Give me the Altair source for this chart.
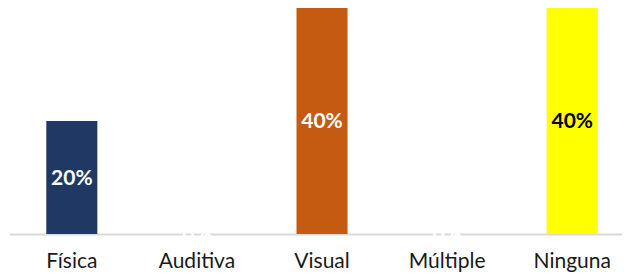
import altair as alt
import pandas as pd

categories = ["Física", "Auditiva", "Visual", "Múltiple", "Ninguna"]
values = [0.20, 0.0, 0.40, 0.0, 0.40]
colors = ["#203864", "#4472C4", "#C55A11", "#A5A5A5", "#FFFF00"]
label_colors = ["white", "white", "white", "white", "black"]

df = pd.DataFrame({"cat": categories, "val": values,
                   "half": [v / 2 for v in values], "lc": label_colors})

x = alt.X("cat:N", sort=categories, title=None,
          scale=alt.Scale(paddingInner=0.592, paddingOuter=0.246, align=0.606),
          axis=alt.Axis(labelAngle=0, ticks=False, labelPadding=33, labelBaseline="alphabetic",
                        labelFontSize=21, labelFont="Lato", labelColor="#1a1a1a",
                        domainColor="#d9d9d9", domainWidth=2, grid=False))

bars = alt.Chart(df).mark_bar().encode(
    x=x,
    y=alt.Y("val:Q", scale=alt.Scale(domain=[0, 0.40], nice=False, zero=True), axis=None),
    color=alt.Color("cat:N", scale=alt.Scale(domain=categories, range=colors), legend=None),
)

labels = alt.Chart(df).mark_text(fontWeight="bold", fontSize=21, font="Lato",
                                 baseline="middle", dy=1).encode(
    x=alt.X("cat:N", sort=categories),
    y=alt.Y("half:Q"),
    text=alt.Text("val:Q", format=".0%"),
    color=alt.Color("lc:N", scale=None),
)

chart = (bars + labels).properties(
    width=613, height=226,
    autosize=alt.AutoSizeParams(type="none"),
    padding={"left": 1, "top": 0, "right": 0, "bottom": 38},
).configure_view(stroke=None)

chart.save("out.html", embed_options={"renderer": "svg", "actions": False})
